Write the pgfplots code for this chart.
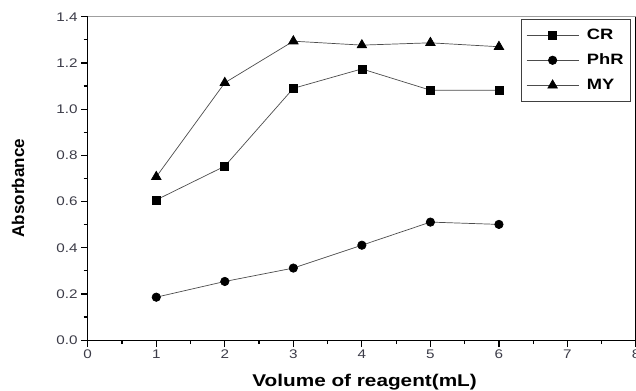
\documentclass[border=0pt]{standalone}
\usepackage{pgfplots}
\pgfplotsset{compat=1.18}
\usepackage{fontspec}
\setmainfont{Liberation Sans}
\newfontfamily\wfont[FakeStretch=1.22]{Liberation Sans}
\definecolor{tickgray}{RGB}{60,60,72}
\begin{document}
\begin{tikzpicture}
\begin{axis}[
  name=ax,
  scale only axis, width=548pt, height=323.3pt,
  xmin=0, xmax=8, ymin=0, ymax=1.4,
  xtick={0,1,2,3,4,5,6,7,8},
  ytick={0,0.2,0.4,0.6,0.8,1.0,1.2,1.4},
  minor x tick num=1, minor y tick num=1,
  tick align=outside, xtick pos=bottom, ytick pos=left,
  major tick length=6.5pt, minor tick length=4pt,
  every tick/.style={black, line width=1.2pt},
  axis line style={black, line width=1.3pt},
  tick label style={font=\wfont\fontsize{12.5pt}{14pt}\selectfont, text=tickgray},
  /pgf/number format/assume math mode=true,
  yticklabel style={/pgf/number format/.cd, fixed, fixed zerofill, precision=1},
  xlabel={Volume of reagent(mL)},
  ylabel={Absorbance},
  xlabel style={font=\wfont\bfseries\fontsize{17pt}{19pt}\selectfont, at={(axis description cs:0.505,-0.1445)}, anchor=base},
  ylabel style={font=\bfseries\fontsize{17pt}{19pt}\selectfont, at={(axis description cs:-0.127,0.47)}, anchor=center},
  legend cell align=left,
  legend style={at={(rel axis cs:1,1)}, anchor=north east, xshift=-5pt, yshift=-2pt,
    draw=black!75, line width=0.8pt, font=\wfont\bfseries\fontsize{15pt}{17pt}\selectfont,
    row sep=9pt, inner xsep=5pt, inner ysep=8pt},
  legend image code/.code={\draw[mark repeat=2,mark phase=2] plot coordinates {(0pt,0pt) (26pt,0pt) (52pt,0pt)}; \path (58pt,0pt);},
]
\addplot[black!70, line width=0.7pt, mark=square*, mark size=4pt, mark options={black, solid}]
  coordinates {(1,0.607) (2,0.753) (3,1.090) (4,1.174) (5,1.082) (6,1.082)};
\addlegendentry{CR}
\addplot[black!70, line width=0.7pt, mark=*, mark size=4.2pt, mark options={black, solid}]
  coordinates {(1,0.186) (2,0.254) (3,0.312) (4,0.411) (5,0.511) (6,0.501)};
\addlegendentry{PhR}
\addplot[black!70, line width=0.7pt, mark=triangle*, mark size=5.5pt, mark options={black, solid}]
  coordinates {(1,0.707) (2,1.114) (3,1.294) (4,1.277) (5,1.287) (6,1.270)};
\addlegendentry{MY}
\draw[gray!75, line width=1.5pt] (rel axis cs:0,1) -- (rel axis cs:1,1);
\end{axis}
\pgfresetboundingbox
\path ([xshift=-87.7pt,yshift=-50pt]ax.south west) rectangle ([yshift=16.7pt]ax.north east);
\end{tikzpicture}
\end{document}
